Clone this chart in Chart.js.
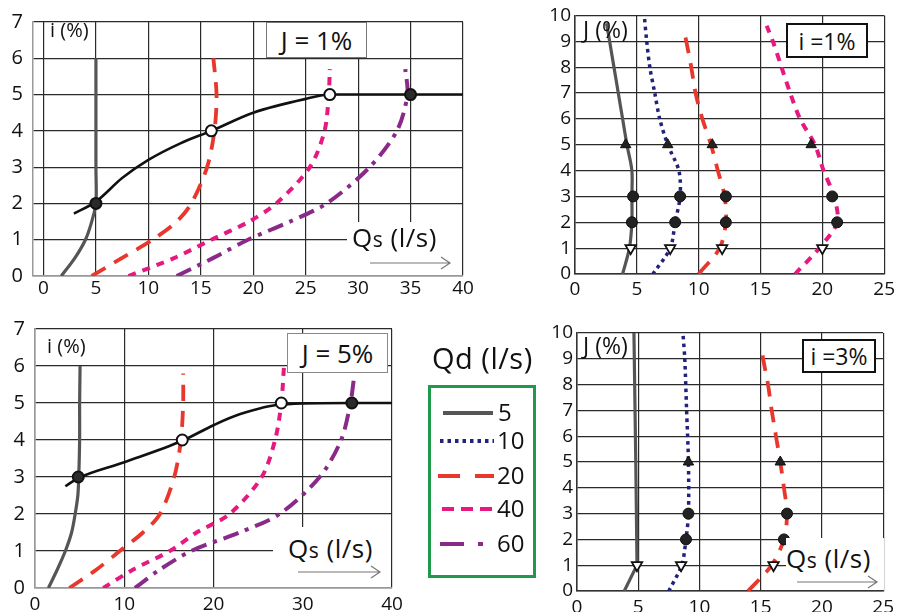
<!DOCTYPE html>
<html><head><meta charset="utf-8">
<script src="https://cdn.jsdelivr.net/npm/chart.js@4.4.1/dist/chart.umd.min.js"></script>
<style>
html,body{margin:0;padding:0;background:#fff;}
#wrap{position:relative;width:899px;height:612px;overflow:hidden;font-family:'Open Sans',sans-serif;color:#111;}
canvas.full{position:absolute;left:0;top:0;}
.lbl{position:absolute;white-space:nowrap;line-height:1;}
.wbg{position:absolute;background:#fff;}
.box{position:absolute;background:#fff;box-sizing:border-box;display:flex;align-items:center;justify-content:center;white-space:nowrap;}
.qs{font-size:26px;letter-spacing:0.5px;}
.qs span{font-size:21px;}
</style></head><body>
<div id="wrap">
<canvas id="cA" class="full" width="899" height="612"></canvas>
<canvas id="cB" class="full" width="899" height="612"></canvas>
<canvas id="cC" class="full" width="899" height="612"></canvas>
<canvas id="cD" class="full" width="899" height="612"></canvas>

<!-- white areas behind Qs labels -->
<div class="wbg" style="left:347px;top:222px;width:115px;height:53px;"></div>
<div class="wbg" style="left:273px;top:527px;width:118px;height:60px;"></div>
<div class="wbg" style="left:786px;top:538px;width:98px;height:52px;"></div>

<div class="lbl" style="left:50px;top:20px;font-size:20px;">i (%)</div>
<div class="box" style="left:266px;top:22px;width:101px;height:36px;border:1.5px solid #777;font-size:26px;">J = 1%</div>
<div class="lbl qs" style="left:352px;top:224px;">Q<span>s</span> (l/s)</div>

<div class="lbl" style="left:47px;top:336px;font-size:20px;">i (%)</div>
<div class="box" style="left:287px;top:333px;width:101px;height:40px;border:1.5px solid #888;font-size:26px;">J = 5%</div>
<div class="lbl qs" style="left:288px;top:535px;">Q<span>s</span> (l/s)</div>

<div class="lbl" style="left:583px;top:18px;font-size:23px;">J (%)</div>
<div class="box" style="left:786px;top:23px;width:82px;height:35px;border:2px solid #111;font-size:23px;">i =1%</div>

<div class="lbl" style="left:583px;top:334px;font-size:23px;">J (%)</div>
<div class="box" style="left:802px;top:339px;width:74px;height:34px;border:2px solid #111;font-size:23px;">i =3%</div>
<div class="lbl qs" style="left:786px;top:545px;">Q<span>s</span> (l/s)</div>

<!-- legend -->
<div class="lbl" style="left:432px;top:343px;font-size:29px;letter-spacing:0.5px;">Qd (l/s)</div>
<div style="position:absolute;left:428px;top:385px;width:108px;height:193px;box-sizing:border-box;border:3px solid #1f9a4b;"></div>
<div class="lbl" style="left:498px;top:400px;font-size:24px;">5</div>
<div class="lbl" style="left:497px;top:428px;font-size:24px;">10</div>
<div class="lbl" style="left:497px;top:463px;font-size:24px;">20</div>
<div class="lbl" style="left:497px;top:496px;font-size:24px;">40</div>
<div class="lbl" style="left:497px;top:531px;font-size:24px;">60</div>

<svg width="899" height="612" style="position:absolute;left:0;top:0;pointer-events:none">
  <g fill="none" stroke-width="4">
    <line x1="443" y1="413" x2="493" y2="413" stroke="#555"/>
    <line x1="440" y1="441" x2="494" y2="441" stroke="#22227a" stroke-dasharray="3.5 4"/>
    <line x1="438" y1="476" x2="494" y2="476" stroke="#e8372c" stroke-dasharray="22 15"/>
    <line x1="442" y1="509" x2="495" y2="509" stroke="#e5197f" stroke-dasharray="12 7"/>
    <line x1="440" y1="544" x2="495" y2="544" stroke="#8a2a88" stroke-dasharray="24 14 5 20"/>
  </g>
  <g fill="none" stroke="#777" stroke-width="1.2">
    <path d="M370 263 L450 263 M441 257 L450 263 L441 269"/>
    <path d="M298 572 L380 572 M371 566 L380 572 L371 578"/>
    <path d="M797 582 L877 582 M868 576 L877 582 L868 588"/>
  </g>
</svg>
</div>

<script>
// ===== Chart A : J = 1% (x: Qs l/s, y: i %) =====
const A_xTicks = [0, 5, 10, 15, 20, 25, 30, 35, 40];
const A_yTicks = [0, 1, 2, 3, 4, 5, 6, 7];
const A_q5_Qs  = [1.7, 3.0, 4.0, 4.6, 5.0, 5.0, 5.0, 5.0, 5.0];
const A_q5_i   = [0, 0.5, 1, 1.5, 2, 3, 4, 5, 6];
const A_q20_Qs = [4.6, 7.5, 10.4, 12.7, 14.1, 15.6, 16.3, 16.5, 16.2];
const A_q20_i  = [0, 0.5, 1, 1.5, 2, 3, 4, 5, 6];
const A_q40_Qs = [8.1, 12.5, 16.0, 19.6, 22.2, 25.4, 26.8, 27.2, 27.3];
const A_q40_i  = [0, 0.5, 1, 1.5, 2, 3, 4, 5, 5.7];
const A_q60_Qs = [12.7, 16.2, 19.5, 23.5, 27.0, 31.1, 33.7, 34.7, 34.5];
const A_q60_i  = [0, 0.5, 1, 1.5, 2, 3, 4, 5, 5.7];
const A_opt_Qs = [2.9, 5, 7.5, 10, 13, 16, 20, 25, 27.3, 35, 40];
const A_opt_i  = [1.72, 2.05, 2.7, 3.2, 3.65, 4.0, 4.5, 4.88, 5.0, 5.0, 5.0];
const A_solid_Qs = [5, 35];
const A_solid_i  = [2, 5];
const A_open_Qs  = [16, 27.3];
const A_open_i   = [4, 5];

// ===== Chart B : i = 1% (x: Qs l/s, y: J %) =====
const B_xTicks = [0, 5, 10, 15, 20, 25];
const B_yTicks = [0, 1, 2, 3, 4, 5, 6, 7, 8, 9, 10];
const B_q5_Qs  = [3.85, 4.4, 4.6, 4.6, 4.6, 4.2, 3.85, 3.5, 3.15, 2.8, 2.55];
const B_q5_J   = [0, 1, 2, 3, 4, 5, 6, 7, 8, 9, 9.7];
const B_q10_Qs = [6.3, 7.7, 8.1, 8.5, 8.4, 7.5, 6.85, 6.45, 6.05, 5.8, 5.6];
const B_q10_J  = [0, 1, 2, 3, 4, 5, 6, 7, 8, 9, 10];
const B_q20_Qs = [10.0, 11.7, 12.2, 12.1, 11.55, 11.0, 10.3, 9.75, 9.4, 9.0, 8.75];
const B_q20_J  = [0, 1, 2, 3, 4, 5, 6, 7, 8, 9, 9.5];
const B_q40_Qs = [17.8, 19.75, 21.2, 20.95, 20.1, 19.4, 18.2, 17.4, 16.7, 16.0, 15.5];
const B_q40_J  = [0, 1, 2, 3, 4, 5, 6, 7, 8, 9, 9.6];
const B_up_Qs   = [4.1, 7.5, 11.1, 19.1];
const B_up_J    = [5, 5, 5, 5];
const B_dot_Qs  = [4.7, 8.5, 12.2, 20.8, 4.6, 8.1, 12.2, 21.2];
const B_dot_J   = [3, 3, 3, 3, 2, 2, 2, 2];
const B_down_Qs = [4.5, 7.7, 11.9, 20.0];
const B_down_J  = [1, 1, 1, 1];

// ===== Chart C : J = 5% (x: Qs l/s, y: i %) =====
const C_xTicks = [0, 10, 20, 30, 40];
const C_yTicks = [0, 1, 2, 3, 4, 5, 6, 7];
const C_q5_Qs  = [1.5, 2.5, 3.4, 4.1, 4.5, 4.8, 4.9, 5.0, 5.0, 5.05];
const C_q5_i   = [0, 0.5, 1, 1.5, 2, 2.5, 3, 4, 5, 6];
const C_q20_Qs = [3.85, 6.9, 9.5, 12.1, 14.0, 15.6, 16.35, 16.6, 16.6];
const C_q20_i  = [0, 0.5, 1, 1.5, 2, 3, 4, 5, 5.8];
const C_q40_Qs = [7.65, 11.0, 15.1, 18.1, 21.8, 25.4, 26.9, 27.6, 27.9];
const C_q40_i  = [0, 0.5, 1, 1.5, 2, 3, 4, 5, 6];
const C_q60_Qs = [11.2, 14.0, 17.5, 22.9, 27.4, 31.9, 34.3, 35.35, 35.7];
const C_q60_i  = [0, 0.5, 1, 1.5, 2, 3, 4, 5, 5.6];
const C_opt_Qs = [3.4, 4.85, 10, 16.5, 20, 23, 27.6, 35.5, 40];
const C_opt_i  = [2.75, 2.97, 3.4, 3.98, 4.4, 4.7, 4.96, 5.0, 5.0];
const C_solid_Qs = [4.85, 35.5];
const C_solid_i  = [3, 5];
const C_open_Qs  = [16.5, 27.6];
const C_open_i   = [4, 5];

// ===== Chart D : i = 3% (x: Qs l/s, y: J %) =====
const D_xTicks = [0, 5, 10, 15, 20, 25];
const D_yTicks = [0, 1, 2, 3, 4, 5, 6, 7, 8, 9, 10];
const D_q5_Qs  = [3.86, 4.9, 4.8, 4.65];
const D_q5_J   = [0, 1, 5, 10];
const D_q10_Qs = [7.5, 8.55, 8.9, 9.1, 9.1, 8.95, 8.8, 8.65];
const D_q10_J  = [0, 1, 2, 3, 5, 7, 9, 10];
const D_q20_Qs = [13.97, 15.9, 16.9, 17.15, 16.9, 16.6, 16.25, 15.9, 15.6, 15.2, 15.05];
const D_q20_J  = [0, 1, 2, 3, 4, 5, 6, 7, 8, 9, 9.5];
const D_up_Qs   = [9.1, 16.6];
const D_up_J    = [5, 5];
const D_dot_Qs  = [9.1, 17.15, 8.9, 16.9];
const D_dot_J   = [3, 3, 2, 2];
const D_down_Qs = [4.9, 8.5, 16.05];
const D_down_J  = [1, 1, 1];

// ---------- styling ----------
const FONT = "'Open Sans', sans-serif";
const COL = {q5:'#555555', q10:'#22227a', q20:'#e8372c', q40:'#e5197f', q60:'#8a2a88', opt:'#111111'};
const pts = (xs, ys) => xs.map((x, k) => ({x: x, y: ys[k]}));

function line(xs, ys, color, dash, width, tension) {
  return {data: pts(xs, ys), showLine: true, borderColor: color, borderWidth: width || 3.5,
          borderDash: dash || [], pointRadius: 0, tension: tension === undefined ? 0.3 : tension,
          fill: false, borderCapStyle: 'butt'};
}
function optLine(xs, ys) {
  return {data: pts(xs, ys), showLine: true, borderColor: COL.opt, borderWidth: 2.6,
          pointRadius: 0, cubicInterpolationMode: 'monotone', fill: false};
}
function marks(xs, ys, style, bg, radius, rot, bw) {
  return {data: pts(xs, ys), showLine: false, pointStyle: style, pointRadius: radius,
          pointRotation: rot || 0, pointBackgroundColor: bg, pointBorderColor: '#111',
          pointBorderWidth: bw === undefined ? 2 : bw};
}

function makeChart(id, o) {
  const gridCol = '#2a2a2a';
  new Chart(document.getElementById(id), {
    type: 'scatter',
    data: {datasets: o.datasets},
    options: {
      responsive: false, animation: false, events: [],
      layout: {padding: {left: o.L - o.yw, top: o.T, right: 899 - o.R, bottom: 612 - o.B - o.xh}},
      plugins: {legend: {display: false}, tooltip: {enabled: false}},
      scales: {
        x: {type: 'linear', min: o.xmin, max: o.xmax,
            afterBuildTicks: s => { s.ticks = o.xt.map(v => ({value: v})); },
            afterFit: s => { s.height = o.xh; },
            grid: {color: gridCol, lineWidth: 1.2, drawTicks: false},
            border: {display: true, color: o.bcol, width: 1.5},
            ticks: {padding: o.xpad, color: '#111', font: {family: FONT, size: 19}, maxRotation: 0, autoSkip: false}},
        y: {type: 'linear', min: 0, max: o.ymax,
            afterBuildTicks: s => { s.ticks = o.yt.map(v => ({value: v})); },
            afterFit: s => { s.width = o.yw; },
            grid: {color: gridCol, lineWidth: 1.2, drawTicks: false},
            border: {display: true, color: o.bcol, width: 1.5},
            ticks: {padding: o.ypad, color: '#111', font: {family: FONT, size: o.yfs}, autoSkip: false}}
      }
    }
  });
}

const D5 = [], D10 = [3.5, 4], D20 = [16, 10], D40 = [8, 7], D60 = [16, 7, 4, 7];

makeChart('cA', {L: 33, T: 15, R: 463, B: 276, yw: 33, xh: 30, xpad: 1, ypad: 10, yfs: 20, bcol: '#999',
  xmin: -1, xmax: 40, ymax: 7, xt: A_xTicks, yt: A_yTicks,
  datasets: [
    marks(A_solid_Qs, A_solid_i, 'circle', '#2a2a2a', 5.5),
    marks(A_open_Qs, A_open_i, 'circle', '#ffffff', 5.5),
    optLine(A_opt_Qs, A_opt_i),
    line(A_q5_Qs, A_q5_i, COL.q5, D5, 3.2),
    line(A_q20_Qs, A_q20_i, COL.q20, D20, 3.8),
    line(A_q40_Qs, A_q40_i, COL.q40, D40, 4),
    line(A_q60_Qs, A_q60_i, COL.q60, D60, 4)
  ]});

makeChart('cB', {L: 575, T: 15, R: 885, B: 274, yw: 40, xh: 30, xpad: 4, ypad: 4, yfs: 19, bcol: '#333',
  xmin: 0, xmax: 25, ymax: 10, xt: B_xTicks, yt: B_yTicks,
  datasets: [
    marks(B_up_Qs, B_up_J, 'triangle', '#222', 6, 0, 1),
    marks(B_dot_Qs, B_dot_J, 'circle', '#222', 5.5, 0, 1),
    marks(B_down_Qs, B_down_J, 'triangle', '#ffffff', 6, 180, 1.8),
    line(B_q5_Qs, B_q5_J, COL.q5, D5, 3.2),
    line(B_q10_Qs, B_q10_J, COL.q10, D10, 3.5),
    line(B_q20_Qs, B_q20_J, COL.q20, D20, 3.8),
    line(B_q40_Qs, B_q40_J, COL.q40, D40, 4)
  ]});

makeChart('cC', {L: 35, T: 329, R: 392, B: 588, yw: 35, xh: 24, xpad: 5, ypad: 10, yfs: 20, bcol: '#999',
  xmin: 0, xmax: 40, ymax: 7, xt: C_xTicks, yt: C_yTicks,
  datasets: [
    marks(C_solid_Qs, C_solid_i, 'circle', '#2a2a2a', 5.5),
    marks(C_open_Qs, C_open_i, 'circle', '#ffffff', 5.5),
    optLine(C_opt_Qs, C_opt_i),
    line(C_q5_Qs, C_q5_i, COL.q5, D5, 3.2),
    line(C_q20_Qs, C_q20_i, COL.q20, D20, 3.8),
    line(C_q40_Qs, C_q40_i, COL.q40, D40, 4),
    line(C_q60_Qs, C_q60_i, COL.q60, D60, 4)
  ]});

makeChart('cD', {L: 577, T: 333, R: 885, B: 591, yw: 40, xh: 21, xpad: 5, ypad: 4, yfs: 19, bcol: '#333',
  xmin: 0, xmax: 25, ymax: 10, xt: D_xTicks, yt: D_yTicks,
  datasets: [
    marks(D_up_Qs, D_up_J, 'triangle', '#222', 6, 0, 1),
    marks(D_dot_Qs, D_dot_J, 'circle', '#222', 5.5, 0, 1),
    marks(D_down_Qs, D_down_J, 'triangle', '#ffffff', 6, 180, 1.8),
    line(D_q5_Qs, D_q5_J, COL.q5, D5, 3.2, 0),
    line(D_q10_Qs, D_q10_J, COL.q10, D10, 3.5),
    line(D_q20_Qs, D_q20_J, COL.q20, D20, 3.8)
  ]});
</script>
</body></html>
